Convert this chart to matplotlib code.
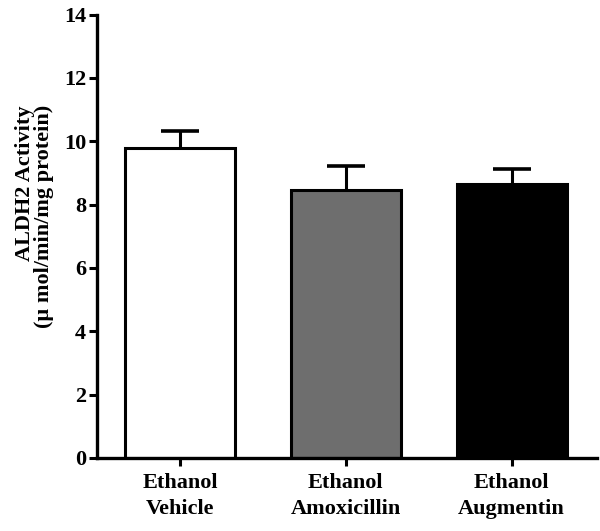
import matplotlib
matplotlib.use('Agg')
import matplotlib.pyplot as plt
import numpy as np

plt.rcParams['font.family'] = ['Liberation Serif', 'DejaVu Serif']
plt.rcParams['font.weight'] = 'bold'

groups = ['Ethanol\nVehicle', 'Ethanol\nAmoxicillin', 'Ethanol\nAugmentin']
means = [9.78, 8.45, 8.64]
sems = [0.54, 0.76, 0.47]
colors = ['white', '#6e6e6e', 'black']

fig = plt.figure(figsize=(6.0, 5.31), dpi=100)
ax = fig.add_axes([0.162, 0.1375, 0.833, 0.835])

x = np.arange(len(groups))
ax.bar(x, means, width=0.663, color=colors, edgecolor='black', linewidth=2.2, zorder=2)
eb = ax.errorbar(x, means, yerr=[np.zeros(len(sems)), sems], fmt='none', ecolor='black',
                 elinewidth=2.2, capsize=14, capthick=2.6, zorder=1)
# only the upper cap is shown
eb[1][0].set_visible(False)

ax.set_xlim(-0.5, 2.515)
ax.set_ylim(0, 14)
ax.set_yticks(np.arange(0, 15, 2))
ax.set_xticks(x)
ax.set_xticklabels(groups, fontsize=16, fontweight='bold', linespacing=1.4)
ax.tick_params(axis='y', labelsize=16, width=2.2, length=6, pad=2)
ax.tick_params(axis='x', width=2.2, length=6, pad=5)
for lab in ax.get_yticklabels():
    lab.set_fontweight('bold')

for s in ['top', 'right']:
    ax.spines[s].set_visible(False)
for s in ['left', 'bottom']:
    ax.spines[s].set_linewidth(2.4)

# y label as two lines, second line slightly offset like the original
fig.text(0.042, 0.655, 'ALDH2 Activity', fontsize=16, fontweight='bold',
         rotation=90, ha='center', va='center')
fig.text(0.073, 0.593, '(\u00b5 mol/min/mg protein)', fontsize=16, fontweight='bold',
         rotation=90, ha='center', va='center')

fig.savefig('out.png', dpi=100)
